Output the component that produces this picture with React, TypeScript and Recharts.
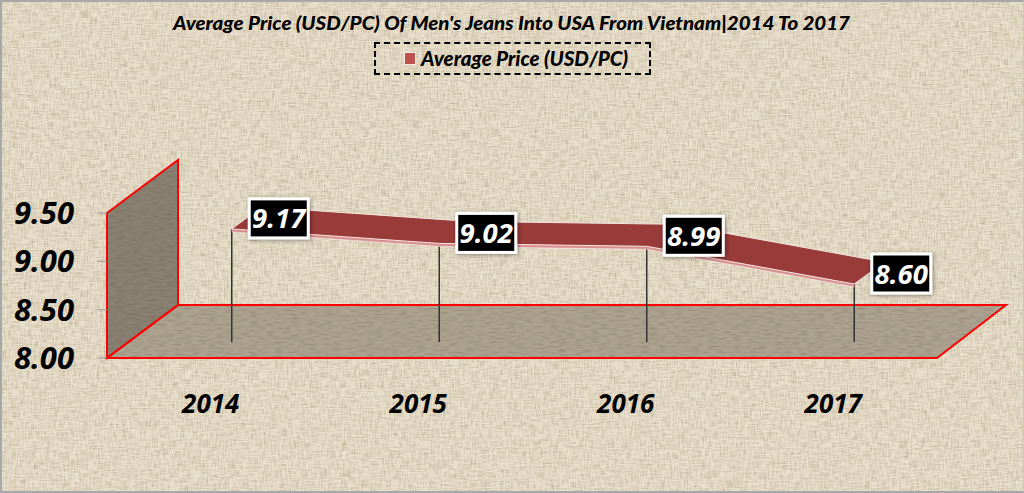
// Pseudo-3D ribbon chart: average price of men's jeans, USA from Vietnam
import { ComposedChart, Line, XAxis, YAxis, Legend, LabelList } from 'recharts';

const YEARS = ['2014', '2015', '2016', '2017'];
const AVG_PRICE = [9.17, 9.02, 8.99, 8.6];
const Y_TICKS = [8, 8.5, 9, 9.5];

const TITLE = "Average Price (USD/PC) Of Men's Jeans Into USA From Vietnam|2014 To 2017";
const SERIES_NAME = 'Average Price (USD/PC)';

const chartData = YEARS.map((year, i) => ({ year, price: AVG_PRICE[i] }));

const WIDTH = 1024;
const HEIGHT = 493;
const NUM_FONT = '"Open Sans", sans-serif';
const TEXT_FONT = 'Lato, "Open Sans", sans-serif';

// depth offsets of the ribbon inside the fake 3D box
const FRONT_DX = 21;
const FRONT_DY = -16;
const BACK_DX = 30;
const BACK_DY = -22;
const FLOOR_Y = 342;

type Pt = { x: number; y: number };
const toPath = (pts: Pt[]) => pts.map((p) => `${p.x},${p.y}`).join(' ');

function Defs() {
  return (
    <defs>
      <filter id="linen" x="0" y="0" width="100%" height="100%" colorInterpolationFilters="sRGB">
        <feTurbulence type="fractalNoise" baseFrequency="0.1 0.7" numOctaves="2" seed="4" result="h" />
        <feTurbulence type="fractalNoise" baseFrequency="0.7 0.1" numOctaves="2" seed="9" result="v" />
        <feBlend in="h" in2="v" mode="multiply" />
        <feColorMatrix
          type="matrix"
          values="0 0 0 0 0.5  0 0 0 0 0.42  0 0 0 0 0.28  0.5 0.5 0.5 0 -0.54"
        />
      </filter>
      <filter id="grain" x="0" y="0" width="100%" height="100%" colorInterpolationFilters="sRGB">
        <feTurbulence type="fractalNoise" baseFrequency="0.12 0.5" numOctaves="1" seed="2" />
        <feColorMatrix
          type="matrix"
          values="0 0 0 0 0.25  0 0 0 0 0.22  0 0 0 0 0.18  0.3 0.3 0 0 -0.26"
        />
      </filter>
      <filter id="boxShadow" x="-20%" y="-20%" width="140%" height="140%">
        <feDropShadow dx="1" dy="1" stdDeviation="2" floodColor="#000" floodOpacity="0.4" />
      </filter>
    </defs>
  );
}

function Backdrop() {
  const wall = [
    { x: 107, y: 213 },
    { x: 178, y: 160 },
    { x: 178, y: 305 },
    { x: 107, y: 358 },
  ];
  const floor = [
    { x: 107, y: 358 },
    { x: 178, y: 305 },
    { x: 1006, y: 305 },
    { x: 937, y: 358 },
  ];
  return (
    <g>
      <rect x={0} y={0} width={WIDTH} height={HEIGHT} fill="#e9e0cc" />
      <rect x={0} y={0} width={WIDTH} height={HEIGHT} filter="url(#linen)" />
      <polygon points={toPath(wall)} fill="#8a8173" />
      <polygon points={toPath(floor)} fill="#aca28f" />
      <clipPath id="planes">
        <polygon points={toPath(wall)} />
        <polygon points={toPath(floor)} />
      </clipPath>
      <g clipPath="url(#planes)">
        <rect x={0} y={0} width={WIDTH} height={HEIGHT} filter="url(#grain)" />
      </g>
      <polygon points={toPath(wall)} fill="none" stroke="#ff0000" strokeWidth={2} />
      <polygon points={toPath(floor)} fill="none" stroke="#ff0000" strokeWidth={2} />
      <text
        x={511.5}
        y={30}
        textAnchor="middle"
        textLength={677}
        lengthAdjust="spacingAndGlyphs"
        fontFamily={TEXT_FONT}
        fontSize={19}
        fontWeight={900}
        fontStyle="italic"
        fill="#000"
      >
        {TITLE}
      </text>
    </g>
  );
}

// the ribbon hangs off the first dot because that dot gets all the line points
function RibbonDot(props: any) {
  const { index, points } = props;
  if (index !== 0 || !points) return <g key={index} />;
  const front: Pt[] = points.map((p: Pt) => ({ x: p.x + FRONT_DX, y: p.y + FRONT_DY }));
  const back: Pt[] = front.map((p) => ({ x: p.x + BACK_DX, y: p.y + BACK_DY }));
  const lip: Pt[] = front.map((p) => ({ x: p.x, y: p.y + 3 }));
  return (
    <g key="ribbon">
      {front.map((p) => (
        <line key={p.x} x1={p.x} y1={p.y} x2={p.x} y2={FLOOR_Y} stroke="#333" strokeWidth={1.5} />
      ))}
      <polygon points={toPath([...front, ...[...lip].reverse()])} fill="#d98f8d" />
      <polyline points={toPath(lip)} fill="none" stroke="#fff" strokeOpacity={0.6} strokeWidth={0.8} />
      <polygon points={toPath([...back, ...[...front].reverse()])} fill="#983b39" stroke="#f5e6e0" strokeWidth={1} />
    </g>
  );
}

function ValueLabel(props: any) {
  const { x, y, value } = props;
  const cx = x + FRONT_DX + 47;
  const cy = y + FRONT_DY - 10.5;
  return (
    <g>
      <rect
        x={cx - 29.5}
        y={cy - 19.5}
        width={59}
        height={39}
        fill="#000"
        stroke="#fff"
        strokeWidth={3}
        filter="url(#boxShadow)"
      />
      <text
        x={cx}
        y={cy + 10}
        textAnchor="middle"
        fontFamily={NUM_FONT}
        fontSize={27.5}
        fontWeight={700}
        fontStyle="italic"
        fill="#fff"
      >
        {Number(value).toFixed(2)}
      </text>
    </g>
  );
}

function LegendBox() {
  return (
    <div
      style={{
        boxSizing: 'border-box',
        width: 277,
        height: 33,
        border: '2px dashed #000',
        display: 'flex',
        alignItems: 'center',
        fontFamily: TEXT_FONT,
        fontSize: 20.5,
        fontWeight: 900,
        fontStyle: 'italic',
        color: '#000',
        paddingLeft: 29,
        paddingBottom: 2,
        whiteSpace: 'nowrap',
      }}
    >
      <span
        style={{
          display: 'inline-block',
          width: 10,
          height: 11,
          background: '#c0504d',
          outline: '1px solid #f4ece0',
          marginRight: 6,
          marginTop: 2,
        }}
      />
      {SERIES_NAME}
    </div>
  );
}

export default function App() {
  return (
    <div style={{ position: 'absolute', left: 0, top: 0, width: WIDTH, height: HEIGHT }}>
      <ComposedChart
        width={WIDTH}
        height={HEIGHT}
        data={chartData}
        margin={{ top: 213, right: 87, bottom: 0, left: 0 }}
      >
        <Defs />
        <Backdrop />
        <XAxis
          dataKey="year"
          scale="band"
          height={135}
          axisLine={false}
          tickLine={false}
          tickMargin={31}
          tick={{
            fontFamily: NUM_FONT,
            fontSize: 26,
            fontWeight: 700,
            fontStyle: 'italic',
            fill: '#000',
          }}
        />
        <YAxis
          width={107}
          domain={[8, 9.5]}
          ticks={Y_TICKS}
          axisLine={false}
          tickSize={10}
          tickMargin={23}
          tickLine={{ stroke: '#999999' }}
          tickFormatter={(v: number) => v.toFixed(2)}
          tick={{
            fontFamily: NUM_FONT,
            fontSize: 31,
            fontWeight: 700,
            fontStyle: 'italic',
            fill: '#000',
          }}
        />
        <Legend
          layout="horizontal"
          verticalAlign="middle"
          align="center"
          content={<LegendBox />}
          wrapperStyle={{ left: 374, top: 42, width: 277, height: 33 }}
        />
        <Line
          dataKey="price"
          name={SERIES_NAME}
          stroke="none"
          dot={<RibbonDot />}
          activeDot={false}
          isAnimationActive={false}
        >
          <LabelList dataKey="price" content={<ValueLabel />} />
        </Line>
      </ComposedChart>
      <div
        style={{
          position: 'absolute',
          inset: 0,
          boxSizing: 'border-box',
          borderTop: '2px solid #a8a8a8',
          borderLeft: '2px solid #a8a8a8',
          borderBottom: '2px solid #a8a8a8',
          borderRight: '1px solid #c8c8c8',
          pointerEvents: 'none',
        }}
      />
    </div>
  );
}
